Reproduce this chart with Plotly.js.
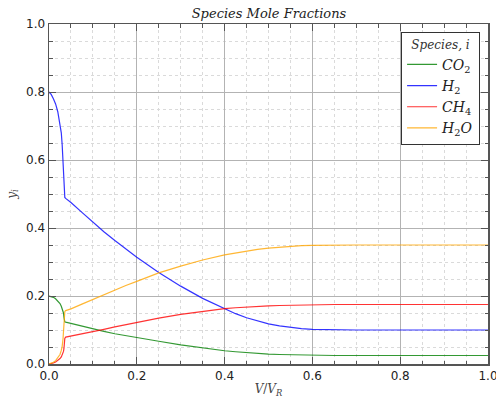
<!DOCTYPE html>
<html>
<head>
<meta charset="utf-8">
<script src="https://cdn.plot.ly/plotly-3.0.1.min.js"></script>
<style>
  html, body { margin: 0; padding: 0; background: #fff; }
  #chart { width: 496px; height: 398px; }
</style>
</head>
<body>
<div id="chart"></div>
<script>
// Reactor volume fraction V/V_R at which the mole fractions are sampled
const volumeFraction = [0, 0.005, 0.01, 0.015, 0.02, 0.025, 0.028, 0.030, 0.032, 0.033, 0.034, 0.035, 0.036, 0.038,
  0.05, 0.075, 0.1, 0.125, 0.15, 0.175, 0.2, 0.25, 0.3, 0.35, 0.4, 0.425, 0.45, 0.475, 0.5, 0.525, 0.55, 0.575,
  0.6, 0.65, 0.7, 0.8, 0.9, 1.0];

// Mole fractions y_i of each species
const yCO2 = [0.200, 0.199, 0.196, 0.192, 0.186, 0.178, 0.170, 0.164, 0.157, 0.150, 0.138, 0.127, 0.124, 0.123,
  0.119, 0.111, 0.103, 0.096, 0.089, 0.083, 0.078, 0.067, 0.056, 0.047, 0.039, 0.036, 0.033, 0.031, 0.029, 0.028, 0.027, 0.0265,
  0.026, 0.025, 0.025, 0.025, 0.025, 0.025];
const yH2 = [0.800, 0.793, 0.780, 0.765, 0.742, 0.710, 0.680, 0.645, 0.600, 0.570, 0.520, 0.495, 0.490, 0.487,
  0.475, 0.446, 0.417, 0.389, 0.363, 0.338, 0.314, 0.269, 0.229, 0.193, 0.162, 0.148, 0.136, 0.126, 0.118, 0.112, 0.107, 0.104,
  0.102, 0.1005, 0.100, 0.100, 0.100, 0.100];
const yCH4 = [0.000, 0.001, 0.003, 0.006, 0.010, 0.016, 0.021, 0.026, 0.032, 0.037, 0.045, 0.060, 0.075, 0.079,
  0.082, 0.088, 0.094, 0.102, 0.109, 0.116, 0.122, 0.135, 0.146, 0.155, 0.163, 0.1655, 0.168, 0.1695, 0.171, 0.172, 0.173, 0.1737,
  0.174, 0.175, 0.175, 0.175, 0.175, 0.175];
const yH2O = [0.000, 0.002, 0.005, 0.010, 0.018, 0.028, 0.040, 0.052, 0.075, 0.090, 0.115, 0.140, 0.154, 0.157,
  0.162, 0.176, 0.190, 0.204, 0.218, 0.231, 0.243, 0.268, 0.288, 0.306, 0.321, 0.327, 0.333, 0.337, 0.341, 0.344, 0.346, 0.348,
  0.349, 0.350, 0.350, 0.350, 0.350, 0.350];

const speciesNames = ['<i>CO</i><sub>2</sub>', '<i>H</i><sub>2</sub>', '<i>CH</i><sub>4</sub>', '<i>H</i><sub>2</sub><i>O</i>'];
const speciesValues = [yCO2, yH2, yCH4, yH2O];
const speciesColors = ['rgba(0,128,0,0.8)', 'rgba(0,0,255,0.8)', 'rgba(255,0,0,0.8)', 'rgba(255,165,0,0.8)'];

const xTicks = [0, 0.2, 0.4, 0.6, 0.8, 1.0];
const yTicks = [0, 0.2, 0.4, 0.6, 0.8, 1.0];
const tickText = ['0.0', '0.2', '0.4', '0.6', '0.8', '1.0'];

const serif = '"DejaVu Serif", "Liberation Serif", serif';

const traces = speciesNames.map((name, k) => ({
  x: volumeFraction,
  y: speciesValues[k],
  name: name,
  type: 'scatter',
  mode: 'lines',
  line: { color: speciesColors[k], width: 1.2 }
}));

function axis(ticks, titleText) {
  return {
    range: [0, 1],
    tickmode: 'array',
    tickvals: ticks,
    ticktext: tickText,
    ticks: 'inside',
    ticklen: 7,
    tickcolor: '#555',
    tickfont: { family: '"DejaVu Sans", sans-serif', size: 12, color: '#222' },
    ticklabeloverflow: 'allow',
    showgrid: true,
    gridcolor: '#b3b3b3',
    gridwidth: 1,
    zeroline: false,
    showline: true,
    linecolor: '#555',
    linewidth: 1.5,
    mirror: 'allticks',
    minor: {
      dtick: 0.05,
      tick0: 0,
      ticks: 'inside',
      ticklen: 3.5,
      tickcolor: '#555',
      showgrid: true,
      gridcolor: '#dadada',
      griddash: 'dot',
      gridwidth: 1
    },
    title: { text: titleText, font: { family: serif, size: 12, color: '#444' } }
  };
}

const xaxis = axis(xTicks, '<i>V</i>/<i>V</i><sub><i>R</i></sub>');
xaxis.title.standoff = 13;
const yaxis = axis(yTicks, '<i>y</i><sub><i>i</i></sub>');
yaxis.title.standoff = 7;

const layout = {
  width: 496,
  height: 398,
  margin: { l: 49, r: 8, t: 24, b: 34 },
  paper_bgcolor: '#ffffff',
  plot_bgcolor: '#ffffff',
  title: {
    text: '<i>Species Mole Fractions</i>',
    font: { family: serif, size: 13, color: '#222' },
    x: 0.5423, xanchor: 'center',
    y: 0.965, yanchor: 'middle'
  },
  xaxis: xaxis,
  yaxis: yaxis,
  showlegend: true,
  legend: {
    x: 0.802, xanchor: 'left',
    y: 0.976, yanchor: 'top',
    bgcolor: '#ffffff',
    bordercolor: '#333',
    borderwidth: 1,
    font: { family: serif, size: 14, color: '#222' },
    title: { text: '<i>Species, i</i>', side: 'top center', font: { family: serif, size: 12, color: '#333' } },
    itemwidth: 30
  }
};

Plotly.newPlot('chart', traces, layout, { displayModeBar: false, staticPlot: true });
</script>
</body>
</html>
